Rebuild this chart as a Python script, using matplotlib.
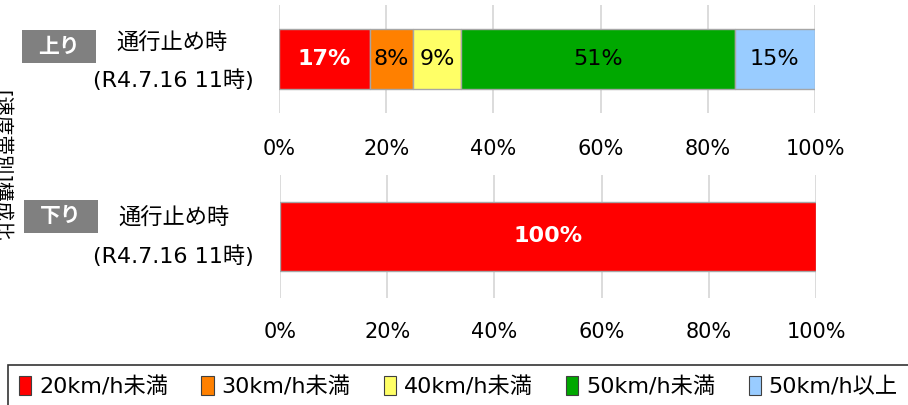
import matplotlib.pyplot as plt
from matplotlib.patches import Patch, Rectangle

plt.rcParams['font.family'] = ['DejaVu Sans', 'Noto Sans CJK JP']

# データ
categories = ['20km/h未満', '30km/h未満', '40km/h未満', '50km/h未満', '50km/h以上']
colors = ['#ff0000', '#ff8000', '#ffff66', '#00a800', '#99ccff']
up_values = [17, 8, 9, 51, 15]
down_values = [100, 0, 0, 0, 0]
ticks = [0, 20, 40, 60, 80, 100]
tick_labels = ['0%', '20%', '40%', '60%', '80%', '100%']

W, H = 908, 405
fig = plt.figure(figsize=(W / 100, H / 100), dpi=100)


def px_axes(x0, y0, x1, y1):
    return fig.add_axes([x0 / W, 1 - y1 / H, (x1 - x0) / W, (y1 - y0) / H])


ax_up = px_axes(279, 5, 815, 113)
ax_down = px_axes(280, 175, 816, 298)


def draw_bar(ax, values, pad):
    left = 0
    for i, v in enumerate(values):
        if v <= 0:
            continue
        ax.barh(0, v, left=left, height=0.56, color=colors[i],
                edgecolor='#a6a6a6', linewidth=1, zorder=3)
        if i == 0:
            ax.text(left + v / 2, 0, f'{v}%', ha='center', va='center',
                    color='white', fontsize=16, fontweight='bold', zorder=4)
        else:
            ax.text(left + v / 2, 0, f'{v}%', ha='center', va='center',
                    color='black', fontsize=16, zorder=4)
        left += v
    ax.set_xlim(0, 100)
    ax.set_ylim(-0.5, 0.5)
    ax.set_xticks(ticks)
    ax.set_xticklabels(tick_labels, fontsize=15)
    ax.set_yticks([])
    ax.tick_params(axis='x', length=0, pad=pad)
    ax.grid(axis='x', color='#d9d9d9', linewidth=1.3, zorder=0)
    for s in ax.spines.values():
        s.set_visible(False)


draw_bar(ax_up, up_values, 19)
draw_bar(ax_down, down_values, 17)


# 左側のラベル
def tag(x0, y0, x1, y1, label):
    fig.add_artist(Rectangle((x0 / W, 1 - y1 / H), (x1 - x0) / W, (y1 - y0) / H,
                             transform=fig.transFigure, facecolor='#808080',
                             edgecolor='none'))
    fig.text((x0 + x1) / 2 / W, 1 - (y0 + y1) / 2 / H, label, ha='center', va='center',
             color='white', fontsize=15, fontweight='bold')


tag(22, 30, 96, 63, '上り')
fig.text(172 / W, 1 - 43 / H, '通行止め時', ha='center', va='center', fontsize=16)
fig.text(173 / W, 1 - 80 / H, '(R4.7.16 11時)', ha='center', va='center', fontsize=16)

tag(24, 200, 98, 233, '下り')
fig.text(174 / W, 1 - 218 / H, '通行止め時', ha='center', va='center', fontsize=16)
fig.text(173 / W, 1 - 256 / H, '(R4.7.16 11時)', ha='center', va='center', fontsize=16)

# 見切れた縦書きラベル
fig.text(0.0, 1 - 166 / H, '[速度帯別]構成比', rotation=270, ha='center', va='center',
         fontsize=14)

# 凡例
handles = [Patch(facecolor=c, edgecolor='#404040', linewidth=0.8) for c in colors]
leg = fig.legend(handles, categories, loc='upper left', bbox_to_anchor=(8 / W, 1 - 365 / H),
                 ncol=5, fontsize=16, frameon=True, fancybox=False, edgecolor='black',
                 handlelength=0.55, handleheight=0.9, handletextpad=0.35,
                 columnspacing=1.5, borderpad=0.5, borderaxespad=0)
leg.get_frame().set_linewidth(1.2)

fig.savefig('out.png', dpi=100)
